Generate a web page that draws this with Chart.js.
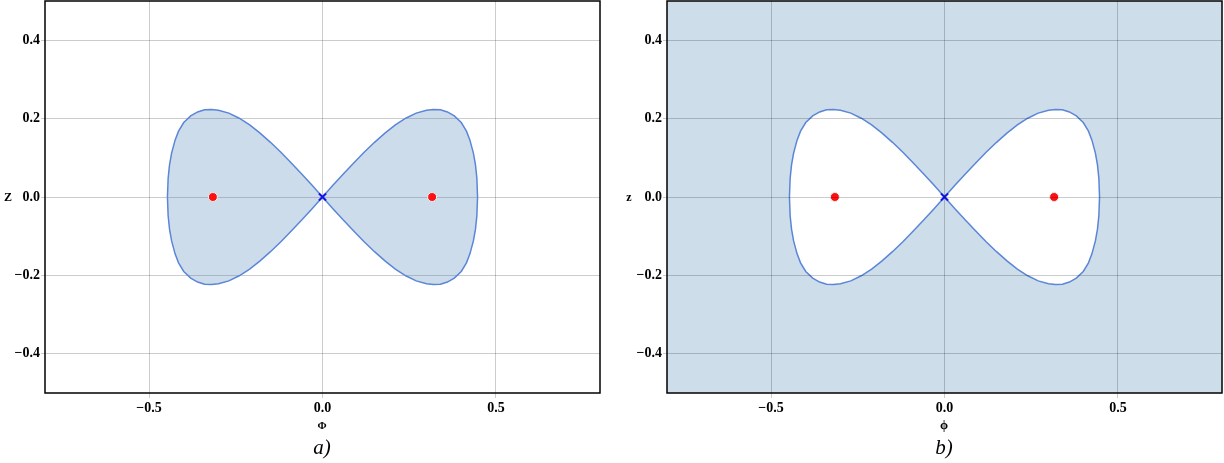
<!DOCTYPE html>
<html>
<head>
<meta charset="utf-8">
<script src="https://cdn.jsdelivr.net/npm/chart.js@4/dist/chart.umd.min.js"></script>
<style>
    html, body { margin: 0; padding: 0; background: #fff; }
    #wrap { position: relative; width: 1224px; height: 463px; overflow: hidden; }
    canvas { position: absolute; top: 0; }
    .lbl { position: absolute; transform: translate(-50%, -50%); font-family: "Liberation Serif", "DejaVu Serif", serif; color: #000; white-space: nowrap; }
    .axis { font-weight: bold; font-size: 12px; }
    .panel { font-style: italic; font-size: 21px; }
</style>
</head>
<body>
<div id="wrap">
    <canvas id="chartA" width="612" height="463" style="left:0"></canvas>
    <canvas id="chartB" width="612" height="463" style="left:612px"></canvas>
    <div class="lbl axis" style="left:8px;top:197px">Z</div>
    <div class="lbl axis" style="left:322px;top:425px;font-size:11px">Φ</div>
    <div class="lbl panel" style="left:322px;top:447px">a)</div>
    <div class="lbl axis" style="left:629px;top:197px">z</div>
    <div class="lbl axis" style="left:944px;top:425px;font-size:13px">ϕ</div>
    <div class="lbl panel" style="left:944px;top:447px">b)</div>
</div>
<script>
"use strict";

// separatrix, upper half of the right lobe
const lobePhi = [0, 0.03, 0.06, 0.09, 0.12, 0.15, 0.18, 0.21, 0.24, 0.27, 0.30, 0.32, 0.34, 0.36, 0.38, 0.40, 0.415, 0.425, 0.435, 0.441, 0.445, 0.447];
const lobeZ = [0, 0.0299, 0.0589, 0.0865, 0.1140, 0.1395, 0.1630, 0.1840, 0.2010, 0.2140, 0.2215, 0.2235, 0.2225, 0.2170, 0.2070, 0.1900, 0.1680, 0.1450, 0.1120, 0.0820, 0.0480, 0];

// fixed points
const centerPhi = [-0.316, 0.316];
const centerZ = [0, 0];
const saddlePhi = [0];
const saddleZ = [0];

// tick labels
const xTicks = [-0.5, 0, 0.5];
const yTicks = [-0.4, -0.2, 0, 0.2, 0.4];

const BLUE_FILL = "#cddde9";
const CURVE = "#5b86d8";

/**
 * Closed outline of one lobe, side = 1 (right) or -1 (left).
 */
function lobe(side) {
    var pts = [];
    for (var i = 0; i < lobePhi.length; i++) {
        pts.push({ x: side * lobePhi[i], y: lobeZ[i] });
    }
    for (var j = lobePhi.length - 2; j >= 0; j--) {
        pts.push({ x: side * lobePhi[j], y: -lobeZ[j] });
    }
    return pts;
}

function points(xs, ys) {
    return xs.map(function (x, i) { return { x: x, y: ys[i] }; });
}

// frame round the plot area and optional background colour
const framePlugin = {
    id: "frame",
    beforeDraw: function (chart, args, opts) {
        if (!opts.background) {
            return;
        }
        const a = chart.chartArea;
        const ctx = chart.ctx;
        ctx.save();
        ctx.fillStyle = opts.background;
        ctx.fillRect(a.left, a.top, a.right - a.left, a.bottom - a.top);
        ctx.restore();
    },
    afterDraw: function (chart) {
        const a = chart.chartArea;
        const ctx = chart.ctx;
        ctx.save();
        ctx.strokeStyle = "#000";
        ctx.lineWidth = 1.5;
        ctx.strokeRect(a.left, a.top, a.right - a.left, a.bottom - a.top);
        ctx.restore();
    }
};

function makeChart(canvas, lobeFill, background, yWidth, padRight) {
    const tickFont = { family: "'Liberation Serif', serif", size: 14, weight: "bold" };
    const lobeStyle = {
        showLine: true,
        fill: "shape",
        backgroundColor: lobeFill,
        borderColor: CURVE,
        borderWidth: 1.5,
        pointRadius: 0,
        tension: 0,
        order: 2
    };

    return new Chart(canvas, {
        type: "scatter",
        data: {
            datasets: [
                Object.assign({ data: lobe(1) }, lobeStyle),
                Object.assign({ data: lobe(-1) }, lobeStyle),
                {
                    data: points(centerPhi, centerZ),
                    pointRadius: 4.5,
                    pointBackgroundColor: "#ff1010",
                    pointBorderColor: "#e4f4f4",
                    pointBorderWidth: 1,
                    order: 1
                },
                {
                    data: points(saddlePhi, saddleZ),
                    pointStyle: "crossRot",
                    pointRadius: 5,
                    pointBorderColor: "#1414e6",
                    pointBorderWidth: 2,
                    order: 0
                }
            ]
        },
        plugins: [framePlugin],
        options: {
            responsive: false,
            devicePixelRatio: 1,
            animation: false,
            layout: { autoPadding: false, padding: { top: 1, right: padRight, left: 0, bottom: 0 } },
            plugins: {
                legend: { display: false },
                tooltip: { enabled: false },
                frame: { background: background }
            },
            scales: {
                x: {
                    type: "linear",
                    min: -0.8,
                    max: 0.8,
                    afterBuildTicks: function (scale) {
                        scale.ticks = xTicks.map(function (v) { return { value: v }; });
                    },
                    afterFit: function (scale) {
                        scale.height = 70;
                        scale.paddingLeft = 0;
                        scale.paddingRight = 0;
                    },
                    grid: { color: "rgba(0,0,0,0.2)", tickLength: 5, z: background ? 1 : 0 },
                    border: { display: false },
                    ticks: {
                        font: tickFont,
                        color: "#000",
                        padding: 2,
                        maxRotation: 0,
                        callback: function (v) { return v.toFixed(1).replace("-", "\u2212"); }
                    }
                },
                y: {
                    type: "linear",
                    min: -0.5,
                    max: 0.5,
                    afterBuildTicks: function (scale) {
                        scale.ticks = yTicks.map(function (v) { return { value: v }; });
                    },
                    afterFit: function (scale) {
                        scale.width = yWidth;
                        scale.paddingTop = 0;
                        scale.paddingBottom = 0;
                    },
                    grid: { color: "rgba(0,0,0,0.2)", tickLength: 4, z: background ? 1 : 0 },
                    border: { display: false },
                    ticks: {
                        font: tickFont,
                        color: "#000",
                        padding: 1,
                        callback: function (v) { return v.toFixed(1).replace("-", "\u2212"); }
                    }
                }
            }
        }
    });
}

makeChart(document.getElementById("chartA"), "rgba(60,120,175,0.26)", null, 45, 12);
makeChart(document.getElementById("chartB"), "#ffffff", BLUE_FILL, 55, 2);
</script>
</body>
</html>
